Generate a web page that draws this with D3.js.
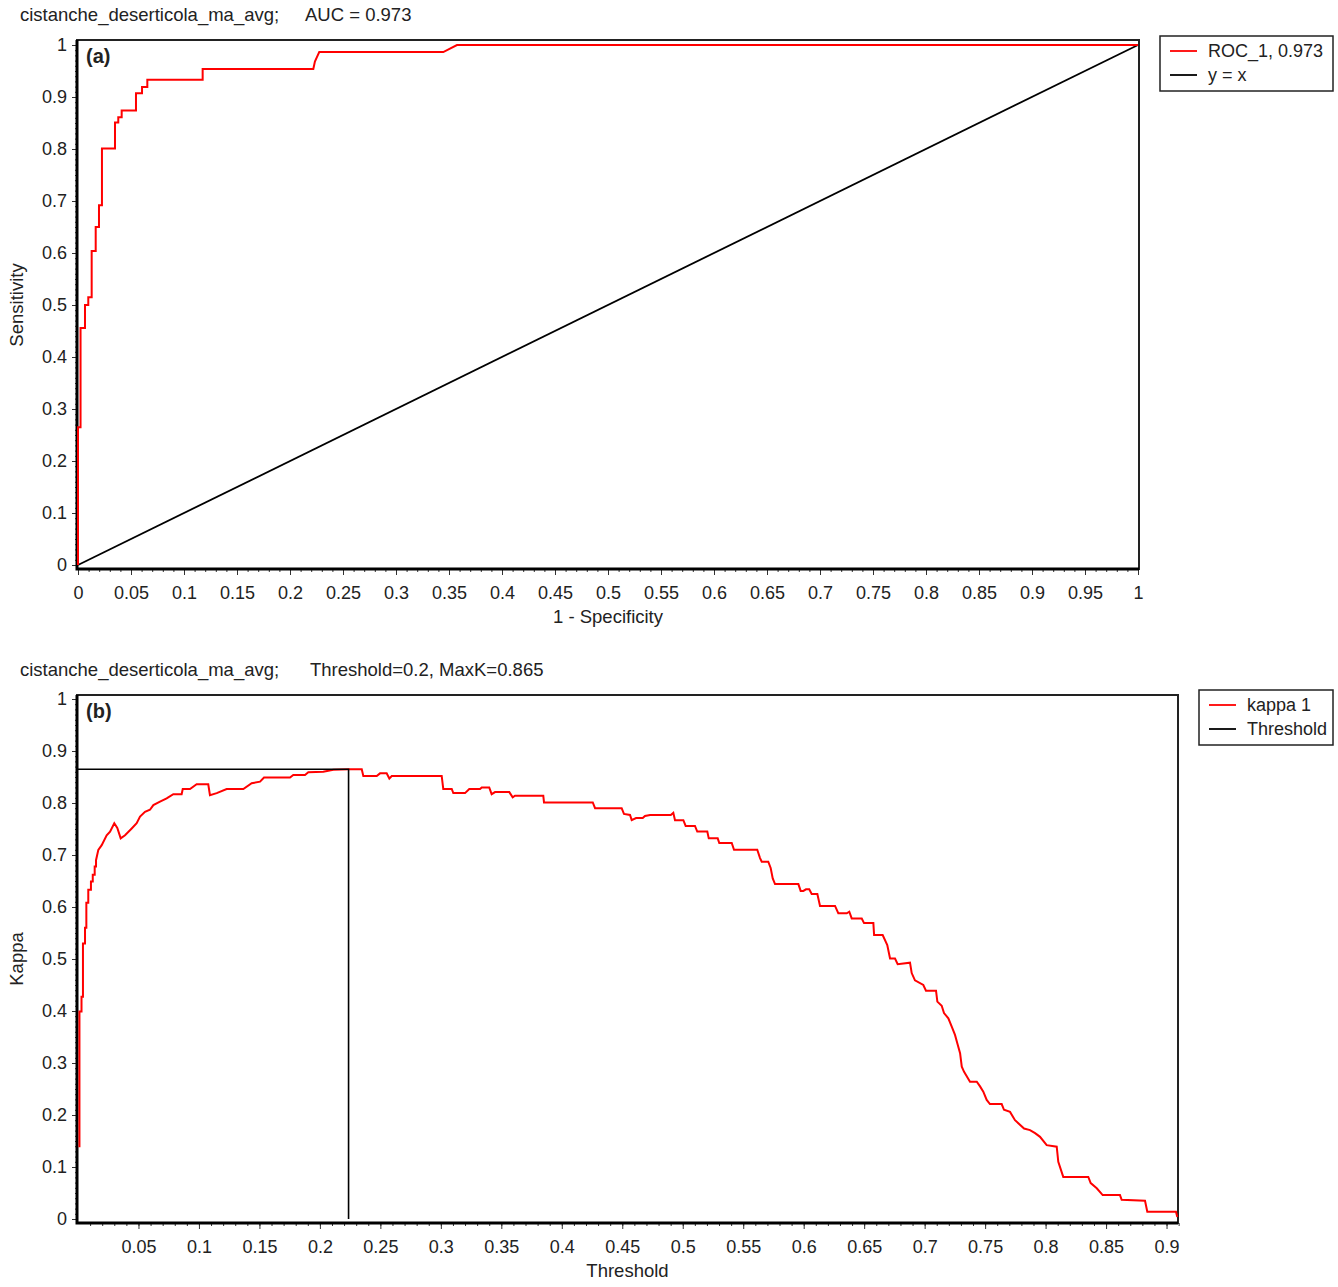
<!DOCTYPE html>
<html>
<head>
<meta charset="utf-8">
<script src="https://cdn.jsdelivr.net/npm/d3@7"></script>
<style>
body { margin: 0; background: #fff; }
svg text { font-family: "Liberation Sans", Arial, sans-serif; fill: #222; }
</style>
</head>
<body>
<svg id="chart" width="1338" height="1287"></svg>
<script>
// ROC curve vertices (1 - specificity, sensitivity)
const rocFpr = [0, 0, 0.0024, 0.0024, 0.0066, 0.0066, 0.0097, 0.0097, 0.0129, 0.0129, 0.0167, 0.0167,
  0.0198, 0.0198, 0.0226, 0.0226, 0.0349, 0.0349, 0.038, 0.038, 0.0412, 0.0412, 0.0547, 0.0547,
  0.0604, 0.0604, 0.0654, 0.0654, 0.1176, 0.1176, 0.222, 0.2235, 0.2255, 0.2276, 0.3446, 0.3575, 1];
const rocTpr = [0, 0.265, 0.265, 0.456, 0.456, 0.5, 0.5, 0.515, 0.515, 0.604, 0.604, 0.65,
  0.65, 0.692, 0.692, 0.801, 0.801, 0.851, 0.851, 0.861, 0.861, 0.874, 0.874, 0.907,
  0.907, 0.919, 0.919, 0.933, 0.933, 0.954, 0.954, 0.968, 0.977, 0.9865, 0.9865, 1, 1];
const diagX = [0, 1];
const diagY = [0, 1];

// kappa vs threshold
const kappaThr = [0.0012, 0.0012, 0.0029, 0.0029, 0.0041, 0.0041, 0.0058, 0.0058, 0.0069, 0.0069,
  0.0085, 0.0085, 0.0107, 0.0107, 0.0122, 0.0122, 0.0138, 0.0138, 0.0149, 0.0149,
  0.0168, 0.0196, 0.0237, 0.0265, 0.03, 0.0325, 0.0353, 0.0389, 0.0444, 0.0485, 0.0513, 0.0554,
  0.0595, 0.0623, 0.0678, 0.0733, 0.0788, 0.0857, 0.0866, 0.0926, 0.0981, 0.1077, 0.1091, 0.1147,
  0.1229, 0.1367, 0.1436, 0.1505, 0.1538, 0.1753, 0.178, 0.1877, 0.1904, 0.2028, 0.2111, 0.2241,
  0.2346, 0.2359, 0.247, 0.2497, 0.2552, 0.2574, 0.2594, 0.3007, 0.302, 0.309, 0.3103, 0.32,
  0.3235, 0.3324, 0.3338, 0.34, 0.342, 0.3448, 0.3566, 0.3594, 0.3613, 0.3847, 0.3853, 0.4256,
  0.4275, 0.4495, 0.4514, 0.4564, 0.4578, 0.4614, 0.4669, 0.4688, 0.473, 0.4901, 0.4922, 0.4936,
  0.5005, 0.5024, 0.5101, 0.512, 0.5203, 0.5215, 0.5289, 0.5302, 0.5405, 0.5424, 0.5616, 0.5639,
  0.5653, 0.5707, 0.5727, 0.5744, 0.5763, 0.5956, 0.5975, 0.5997, 0.6019, 0.6046, 0.6066, 0.6113,
  0.6135, 0.6259, 0.6286, 0.6356, 0.6377, 0.6397, 0.648, 0.6499, 0.6576, 0.6582, 0.6653, 0.6691,
  0.6714, 0.6755, 0.6777, 0.6879, 0.6893, 0.692, 0.6989, 0.7011, 0.7094, 0.7105, 0.7141, 0.716,
  0.7196, 0.7224, 0.7251, 0.727, 0.7293, 0.7307, 0.7326, 0.7375, 0.7431, 0.7458, 0.7485, 0.7513,
  0.754, 0.7637, 0.7656, 0.7706, 0.7747, 0.7822, 0.7871, 0.7913, 0.7954, 0.8009, 0.8092, 0.8105,
  0.8146, 0.8353, 0.8373, 0.8423, 0.8472, 0.8615, 0.8629, 0.8822, 0.8841, 0.9078, 0.9089];
const kappaVal = [0.138, 0.399, 0.399, 0.4275, 0.4275, 0.53, 0.53, 0.56, 0.56, 0.608,
  0.608, 0.633, 0.633, 0.649, 0.649, 0.662, 0.662, 0.678, 0.678, 0.69,
  0.71, 0.719, 0.738, 0.745, 0.761, 0.752, 0.732, 0.738, 0.751, 0.761, 0.774, 0.783,
  0.787, 0.796, 0.8025, 0.809, 0.817, 0.817, 0.827, 0.827, 0.836, 0.836, 0.815, 0.819,
  0.827, 0.827, 0.838, 0.841, 0.849, 0.849, 0.854, 0.854, 0.859, 0.86, 0.864, 0.865,
  0.865, 0.852, 0.852, 0.857, 0.857, 0.847, 0.852, 0.852, 0.827, 0.827, 0.819, 0.819,
  0.827, 0.827, 0.83, 0.83, 0.817, 0.821, 0.821, 0.811, 0.814, 0.814, 0.801, 0.801,
  0.79, 0.79, 0.779, 0.777, 0.767, 0.771, 0.771, 0.775, 0.777, 0.777, 0.781, 0.767,
  0.767, 0.756, 0.756, 0.745, 0.745, 0.732, 0.732, 0.723, 0.723, 0.71, 0.71, 0.694,
  0.687, 0.687, 0.675, 0.655, 0.644, 0.644, 0.631, 0.631, 0.634, 0.634, 0.625, 0.625,
  0.602, 0.602, 0.588, 0.588, 0.591, 0.578, 0.578, 0.569, 0.569, 0.546, 0.546, 0.527,
  0.501, 0.501, 0.49, 0.493, 0.473, 0.459, 0.45, 0.439, 0.439, 0.418, 0.41, 0.396,
  0.386, 0.37, 0.354, 0.338, 0.319, 0.293, 0.283, 0.264, 0.264, 0.255, 0.245, 0.229,
  0.221, 0.221, 0.21, 0.206, 0.19, 0.174, 0.171, 0.165, 0.158, 0.142, 0.139, 0.11,
  0.081, 0.081, 0.069, 0.059, 0.046, 0.046, 0.037, 0.035, 0.014, 0.014, 0.004];
const bestThr = 0.2237, maxK = 0.865;

const yTicks = [0, 0.1, 0.2, 0.3, 0.4, 0.5, 0.6, 0.7, 0.8, 0.9, 1];
const rocXTicks = [0, 0.05, 0.1, 0.15, 0.2, 0.25, 0.3, 0.35, 0.4, 0.45, 0.5, 0.55, 0.6, 0.65, 0.7,
  0.75, 0.8, 0.85, 0.9, 0.95, 1];
const kapXTicks = [0.05, 0.1, 0.15, 0.2, 0.25, 0.3, 0.35, 0.4, 0.45, 0.5, 0.55, 0.6, 0.65, 0.7,
  0.75, 0.8, 0.85, 0.9];

const svg = d3.select("#chart");
const fmt = d => String(+d.toFixed(2));

function panel(o) {
  const g = svg.append("g");
  const x = o.x, y = o.y;
  const left = o.box[0], right = o.box[1], top = o.box[2], bottom = o.box[3];

  // minor ticks
  g.append("g").attr("transform", `translate(0,${bottom})`)
    .call(d3.axisBottom(x).tickValues(o.minorX).tickSize(3).tickFormat(""))
    .call(a => a.select(".domain").remove());
  g.append("g").attr("transform", `translate(${left},0)`)
    .call(d3.axisLeft(y).tickValues(d3.range(0, 101).map(i => i / 100)).tickSize(2).tickFormat(""))
    .call(a => a.select(".domain").remove());

  const xa = g.append("g").attr("transform", `translate(0,${bottom})`)
    .call(d3.axisBottom(x).tickValues(o.xTicks).tickSize(6).tickPadding(11).tickFormat(fmt));
  xa.select(".domain").remove();
  xa.selectAll("text").style("font-size", "18px");
  const ya = g.append("g").attr("transform", `translate(${left},0)`)
    .call(d3.axisLeft(y).tickValues(yTicks).tickSize(5).tickPadding(5).tickFormat(fmt));
  ya.select(".domain").remove();
  ya.selectAll("text").style("font-size", "18px");
  g.selectAll(".tick line").attr("stroke", "#333");

  // frame
  g.append("rect").attr("x", left).attr("y", top).attr("width", right - left).attr("height", bottom - top)
    .attr("fill", "none").attr("stroke", "#222").attr("stroke-width", 2);
  g.append("path").attr("d", `M${left},${top}V${bottom}H${right}`)
    .attr("fill", "none").attr("stroke", "#000").attr("stroke-width", 3);

  g.append("text").attr("x", left + 9).attr("y", top + 23)
    .style("font-size", "20px").style("font-weight", "bold").attr("fill", "#000").text(o.tag);
  g.append("text").attr("x", 20).attr("y", o.titleY).style("font-size", "18.5px").text(o.title1);
  g.append("text").attr("x", o.title2X).attr("y", o.titleY).style("font-size", "18.5px").text(o.title2);
  g.append("text").attr("x", (left + right) / 2 + o.xLabShift).attr("y", bottom + 54)
    .attr("text-anchor", "middle").style("font-size", "18.5px").text(o.xLabel);
  g.append("text").attr("transform", `translate(23,${(y(0) + y(1)) / 2}) rotate(-90)`)
    .attr("text-anchor", "middle").style("font-size", "18.5px").text(o.yLabel);

  // legend
  const lg = o.legend;
  g.append("rect").attr("x", lg.x).attr("y", lg.y).attr("width", lg.w).attr("height", 55)
    .attr("fill", "#fff").attr("stroke", "#222").attr("stroke-width", 1.5);
  lg.items.forEach((it, i) => {
    const cy = lg.y + 15 + i * 24;
    g.append("line").attr("x1", lg.x + 10).attr("x2", lg.x + 37).attr("y1", cy).attr("y2", cy)
      .attr("stroke", it.c).attr("stroke-width", 1.8);
    g.append("text").attr("x", lg.x + 48).attr("y", cy + 6).style("font-size", "18px").text(it.t);
  });
  return g;
}

// ---------- (a) ROC ----------
const xa = d3.scaleLinear().domain([0, 1]).range([78, 1138]);
const ya = d3.scaleLinear().domain([0, 1]).range([565, 45]);
const ga = panel({
  x: xa, y: ya, box: [77, 1139, 40, 569], minorX: d3.range(0, 101).map(i => i / 100),
  xTicks: rocXTicks, tag: "(a)", titleY: 21, title1: "cistanche_deserticola_ma_avg;", title2X: 305,
  title2: "AUC = 0.973", xLabel: "1 - Specificity", xLabShift: 0, yLabel: "Sensitivity",
  legend: { x: 1160, y: 36, w: 173, items: [{ c: "#ff0000", t: "ROC_1, 0.973" }, { c: "#000", t: "y = x" }] }
});
ga.append("path").datum(diagX.map((d, i) => [d, diagY[i]]))
  .attr("d", d3.line().x(d => xa(d[0])).y(d => ya(d[1])))
  .attr("fill", "none").attr("stroke", "#000").attr("stroke-width", 1.8);
ga.append("path").datum(rocFpr.map((d, i) => [d, rocTpr[i]]))
  .attr("d", d3.line().x(d => xa(d[0])).y(d => ya(d[1])))
  .attr("fill", "none").attr("stroke", "#ff0000").attr("stroke-width", 2);

// ---------- (b) Kappa ----------
const xb = d3.scaleLinear().domain([0, 0.9103]).range([78, 1179]);
const yb = d3.scaleLinear().domain([0, 1]).range([1219, 699]);
const gb = panel({
  x: xb, y: yb, box: [77, 1178, 695, 1223], minorX: d3.range(1, 92).map(i => i / 100),
  xTicks: kapXTicks, tag: "(b)", titleY: 676, title1: "cistanche_deserticola_ma_avg;", title2X: 310,
  title2: "Threshold=0.2, MaxK=0.865", xLabel: "Threshold", xLabShift: 0, yLabel: "Kappa",
  legend: { x: 1199, y: 690, w: 134, items: [{ c: "#ff0000", t: "kappa 1" }, { c: "#000", t: "Threshold" }] }
});
gb.append("path").datum(kappaThr.map((d, i) => [d, kappaVal[i]]))
  .attr("d", d3.line().x(d => xb(d[0])).y(d => yb(d[1])))
  .attr("fill", "none").attr("stroke", "#ff0000").attr("stroke-width", 2);
gb.append("path")
  .attr("d", `M${xb(0) - 1},${yb(maxK)}H${xb(bestThr)}V${yb(0)}`)
  .attr("fill", "none").attr("stroke", "#000").attr("stroke-width", 1.6);
</script>
</body>
</html>
